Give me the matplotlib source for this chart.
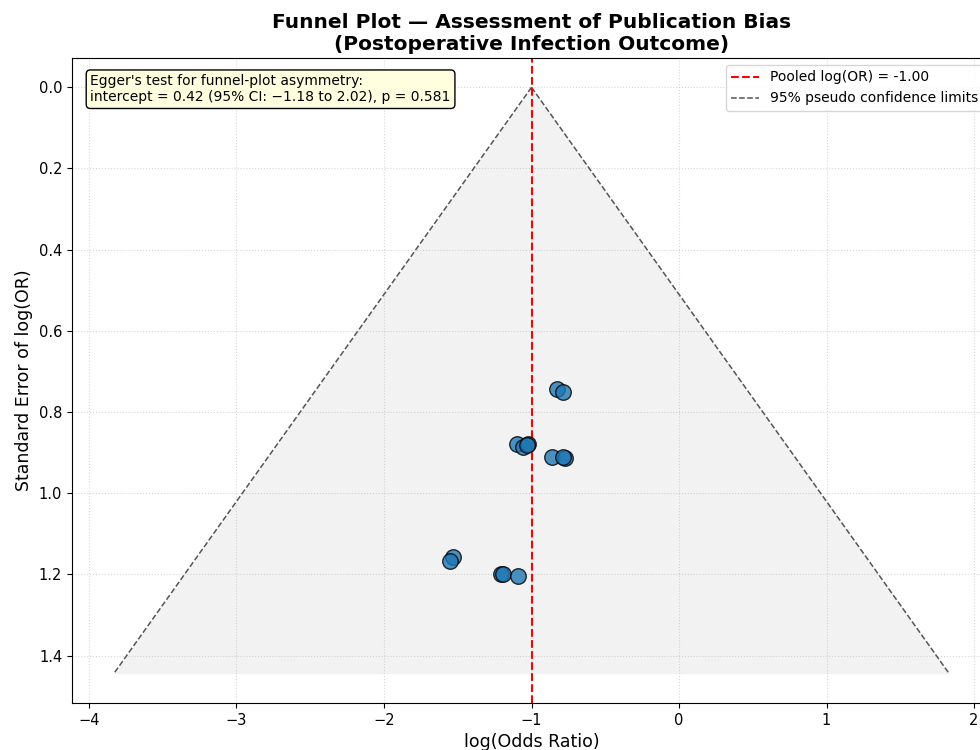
import numpy as np
import matplotlib
matplotlib.use("Agg")
import matplotlib.pyplot as plt

# Study-level estimates: log odds ratios and their standard errors
log_or = [-0.829, -0.788, -1.096, -1.056, -1.022, -1.030, -0.861, -0.773, -0.786,
          -1.530, -1.553, -1.207, -1.193, -1.094]
se = [0.744, 0.751, 0.879, 0.887, 0.879, 0.882, 0.912, 0.914, 0.911,
      1.157, 1.167, 1.198, 1.200, 1.204]

pooled = -1.00
egger_intercept = 0.42
egger_ci = (-1.18, 2.02)
egger_p = 0.581

fig = plt.figure(figsize=(9.8, 7.5), dpi=100)
ax = fig.add_axes([72 / 980, 47 / 750, 919 / 980, 645 / 750])

# Pseudo 95% confidence funnel around the pooled estimate
se_max = max(se) * 1.2
se_grid = np.linspace(0, se_max, 100)
lower = pooled - 1.96 * se_grid
upper = pooled + 1.96 * se_grid
ax.fill_betweenx(se_grid, lower, upper, color="gray", alpha=0.1, linewidth=0)
ax.plot(lower, se_grid, color="#555555", linestyle="--", linewidth=1.1,
        label="95% pseudo confidence limits")
ax.plot(upper, se_grid, color="#555555", linestyle="--", linewidth=1.1)

ax.axvline(pooled, color="red", linestyle="--", linewidth=1.5,
           label=f"Pooled log(OR) = {pooled:.2f}")

ax.scatter(log_or, se, s=125, color="#1f77b4", alpha=0.8,
           edgecolors="black", linewidths=1, zorder=3)

ax.invert_yaxis()
ax.set_xlabel("log(Odds Ratio)", fontsize=12.5)
ax.set_ylabel("Standard Error of log(OR)", fontsize=12.5)
ax.set_title("Funnel Plot — Assessment of Publication Bias\n(Postoperative Infection Outcome)",
             fontsize=14.5, fontweight="bold")
ax.grid(True, linestyle=":", alpha=0.5)
ax.tick_params(labelsize=10.5)

ax.text(0.02, 0.975,
        f"Egger's test for funnel-plot asymmetry:\n"
        f"intercept = {egger_intercept:.2f} (95% CI: \u2212{abs(egger_ci[0]):.2f} to {egger_ci[1]:.2f}), p = {egger_p:.3f}",
        transform=ax.transAxes, va="top", ha="left", fontsize=10,
        bbox=dict(boxstyle="round,pad=0.3", facecolor="lightyellow", edgecolor="black"))

handles, labels = ax.get_legend_handles_labels()
ax.legend(handles[::-1], labels[::-1], loc="upper right", fontsize=10)

fig.savefig("out.png", dpi=100)
